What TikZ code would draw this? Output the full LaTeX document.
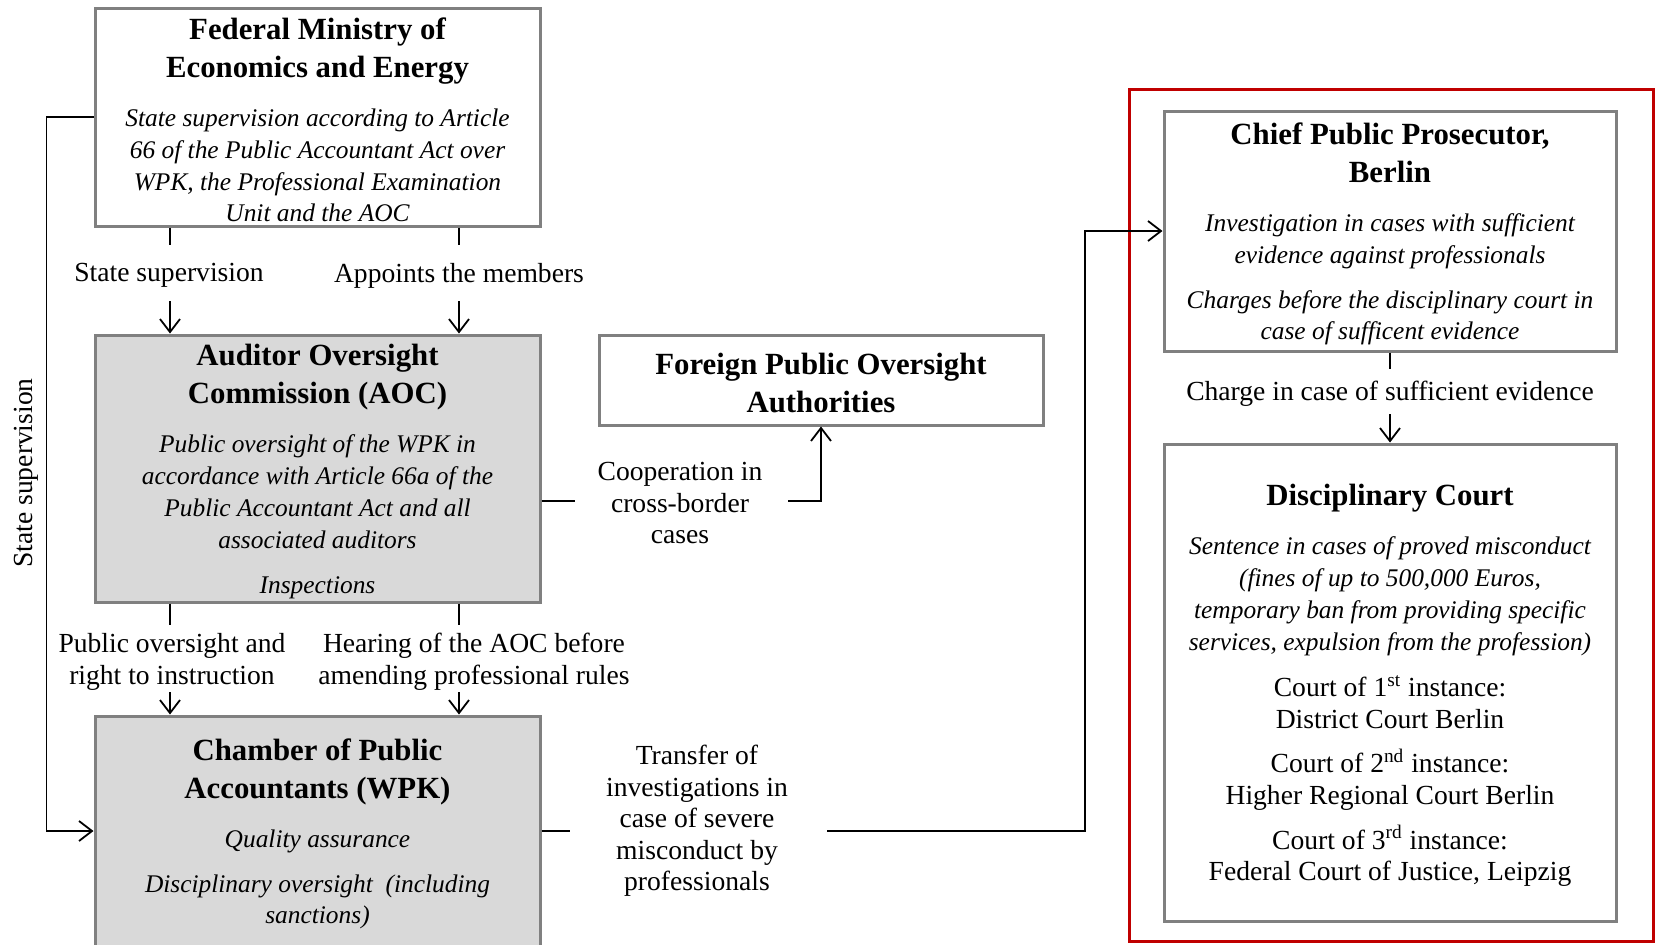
\documentclass[tikz,border=0pt]{standalone}
\usepackage{fontspec}
\setmainfont{Liberation Serif}
\usetikzlibrary{arrows.meta,calc}
\definecolor{boxgray}{HTML}{808080}
\definecolor{fillgray}{HTML}{D9D9D9}
\definecolor{redline}{HTML}{C00000}
\newcommand\dHfont{\fontsize{15.4}{19}\selectfont\bfseries\upshape}
\newcommand\dIfont{\fontsize{12.7}{15.9}\selectfont\itshape\mdseries}
\newcommand\dLfont{\fontsize{13.8}{15.8}\selectfont\upshape\mdseries}
\newcommand\dhgap{\par\vspace{8.6pt}}
\newcommand\dpgap{\par\vspace{6.5pt}}
\newcommand\dcontent[2]{\raisebox{-1.5pt}[\height][\depth]{\parbox{#1}{\centering #2\par}}}
\begin{document}
\begin{tikzpicture}[x=0.5pt,y=-0.5pt,
  box/.style={draw=boxgray,line width=1.5pt,inner sep=0pt,fill=white},
  gbox/.style={box,fill=fillgray},
  lbl/.style={inner sep=0pt,align=center,font=\dLfont},
  conn/.style={line width=0.9pt},
  arr/.style={conn,-{Straight Barb[length=6.5pt,width=10pt]}}]
\useasboundingbox (0,0) rectangle (1656,944);

% red frame
\node[draw=redline,line width=1.5pt,minimum width=262pt,minimum height=426pt,inner sep=0pt] (judiciary) at (1391,515) {};

% boxes
\node[box,minimum width=222.5pt,minimum height=109pt] (fed) at (317.5,117)
 {\dcontent{222.5pt}{\dHfont Federal Ministry of\\Economics and Energy\dhgap
  \dIfont State supervision according to Article\\66 of the Public Accountant Act over\\WPK, the Professional Examination\\Unit and the AOC}};

\node[gbox,minimum width=222.5pt,minimum height=133.5pt] (aoc) at (317.5,468.5)
 {\dcontent{222.5pt}{\dHfont Auditor Oversight\\Commission (AOC)\dhgap
  \dIfont Public oversight of the WPK in\\accordance with Article 66a of the\\Public Accountant Act and all\\associated auditors\dpgap
  Inspections}};

\node[gbox,minimum width=222.5pt,minimum height=115pt] (wpk) at (317.5,831)
 {\dcontent{222.5pt}{\dHfont Chamber of Public\\Accountants (WPK)\dhgap
  \dIfont Quality assurance\dpgap
  Disciplinary oversight \ (including\\sanctions)}};

\node[box,minimum width=222pt,minimum height=45pt] (foreign) at (821,380)
 {\dcontent{222pt}{\dHfont Foreign Public Oversight\\Authorities}};

\node[box,minimum width=226pt,minimum height=120pt] (chief) at (1390,231)
 {\dcontent{226pt}{\dHfont Chief Public Prosecutor,\\Berlin\dhgap
  \dIfont Investigation in cases with sufficient\\evidence against professionals\dpgap
  Charges before the disciplinary court in\\case of sufficent evidence}};

\node[box,minimum width=226pt,minimum height=238.5pt] (disc) at (1390,682.5)
 {\dcontent{226pt}{\dHfont Disciplinary Court\dhgap
  \dIfont Sentence in cases of proved misconduct\\(fines of up to 500,000 Euros,\\temporary ban from providing specific\\services, expulsion from the profession)\par\vspace{7.5pt}
  \dLfont Court of 1\textsuperscript{st} instance:\\District Court Berlin\dpgap
  Court of 2\textsuperscript{nd} instance:\\Higher Regional Court Berlin\dpgap
  Court of 3\textsuperscript{rd} instance:\\Federal Court of Justice, Leipzig}};

% left state supervision line
\node[lbl,rotate=90] (ssv) at (26,473) {State supervision};
\draw[arr] (fed.west) -- ++(-47,0) |- (wpk.west);

% Fed -> AOC
\coordinate (s1) at (170,245); \coordinate (t1) at (170,301);
\coordinate (s2) at (459,245); \coordinate (t2) at (459,301);
\node[lbl] (l1) at (169,275.5) {State supervision};
\node[lbl] (l2) at (459,275.5) {Appoints the members};
\draw[conn] (fed.south -| s1) -- (s1);
\draw[arr] (t1) -- (t1 |- aoc.north);
\draw[conn] (fed.south -| s2) -- (s2);
\draw[arr] (t2) -- (t2 |- aoc.north);

% AOC -> WPK
\coordinate (s3) at (170,625); \coordinate (t3) at (170,692);
\coordinate (s4) at (459,625); \coordinate (t4) at (459,692);
\node[lbl] (l3) at (172,662) {Public oversight and\\right to instruction};
\node[lbl] (l4) at (474,662) {Hearing of the AOC before\\amending professional rules};
\draw[conn] (aoc.south -| s3) -- (s3);
\draw[arr] (t3) -- (t3 |- wpk.north);
\draw[conn] (aoc.south -| s4) -- (s4);
\draw[arr] (t4) -- (t4 |- wpk.north);

% AOC -> Foreign
\node[lbl] (coop) at (680,503) {Cooperation in\\cross-border\\cases};
\coordinate (c1) at (575,501); \coordinate (c2) at (788,501);
\draw[conn] (aoc.east |- c1) -- (c1);
\draw[arr] (c2) -| (foreign.south);

% WPK -> Chief
\node[lbl] (trans) at (697,821) {Transfer of\\investigations in\\case of severe\\misconduct by\\professionals};
\coordinate (d1) at (570,831); \coordinate (d2) at (827,831); \coordinate (d3) at (1085,831);
\draw[conn] (wpk.east |- d1) -- (d1);
\draw[arr] (d2) -- (d3) |- (chief.west);

% Chief -> Disc
\coordinate (e1) at (1390,369); \coordinate (e2) at (1390,414);
\node[lbl] (charge) at (1390,394) {Charge in case of sufficient evidence};
\draw[conn] (chief.south) -- (e1);
\draw[arr] (e2) -- (disc.north);
\end{tikzpicture}
\end{document}
